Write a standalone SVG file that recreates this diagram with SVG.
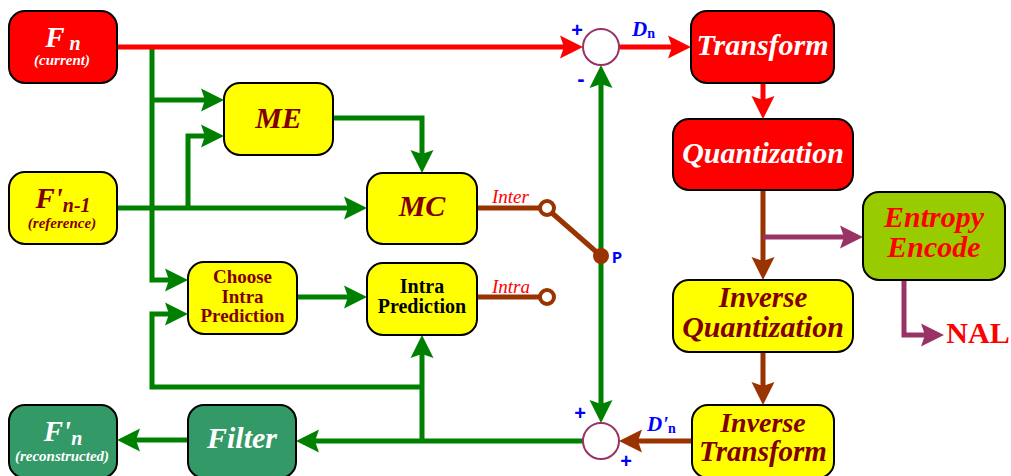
<svg xmlns="http://www.w3.org/2000/svg" width="1011" height="476" viewBox="0 0 1011 476">
<style>
.nd{stroke:#000;stroke-width:2}
.t{font-family:"Liberation Serif","Times New Roman",serif;font-weight:bold;text-anchor:middle}
.bi{font-style:italic}
.w{fill:#fff}
.dr{fill:#800000}
.ln{fill:none;stroke-width:5;stroke-linejoin:miter}
.g{stroke:#008000}
.r{stroke:#ff0000}
.b{stroke:#993300}
.p{stroke:#993366}
.bl{fill:#0000ff;font-family:"Liberation Sans",Arial,sans-serif;font-weight:bold}
.lab{font-family:"Liberation Serif","Times New Roman",serif;font-style:italic;fill:#ff0000;font-size:19px}
</style>
<defs>
<marker id="ag" markerUnits="userSpaceOnUse" markerWidth="24" markerHeight="24" viewBox="0 0 24 24" refX="11" refY="12" orient="auto"><path d="M0,0.5 L23,12 L0,23.5 L4,12 Z" fill="#008000"/></marker>
<marker id="ar" markerUnits="userSpaceOnUse" markerWidth="24" markerHeight="24" viewBox="0 0 24 24" refX="11" refY="12" orient="auto"><path d="M0,0.5 L23,12 L0,23.5 L4,12 Z" fill="#ff0000"/></marker>
<marker id="ab" markerUnits="userSpaceOnUse" markerWidth="24" markerHeight="24" viewBox="0 0 24 24" refX="11" refY="12" orient="auto"><path d="M0,0.5 L23,12 L0,23.5 L4,12 Z" fill="#993300"/></marker>
<marker id="ap" markerUnits="userSpaceOnUse" markerWidth="24" markerHeight="24" viewBox="0 0 24 24" refX="11" refY="12" orient="auto"><path d="M0,0.5 L23,12 L0,23.5 L4,12 Z" fill="#993366"/></marker>
</defs>

<g id="connectors">
<path class="ln g" d="M152,47 V280 H176" marker-end="url(#ag)"/>
<path class="ln g" d="M152,100 H212" marker-end="url(#ag)"/>
<path class="ln g" d="M117,208 H355" marker-end="url(#ag)"/>
<path class="ln g" d="M188,208 V136 H212" marker-end="url(#ag)"/>
<path class="ln g" d="M333,118 H422 V161" marker-end="url(#ag)"/>
<path class="ln g" d="M297,297 H355" marker-end="url(#ag)"/>
<path class="ln g" d="M601,256 V77" marker-end="url(#ag)"/>
<path class="ln g" d="M601,256 V411" marker-end="url(#ag)"/>
<path class="ln g" d="M583,441 H308" marker-end="url(#ag)"/>
<path class="ln g" d="M422,441 V347" marker-end="url(#ag)"/>
<path class="ln g" d="M422,387 H152 V314 H176" marker-end="url(#ag)"/>
<path class="ln g" d="M188,440 H129" marker-end="url(#ag)"/>
<path class="ln r" d="M117,47 H571" marker-end="url(#ar)"/>
<path class="ln r" d="M619,47 H679" marker-end="url(#ar)"/>
<path class="ln r" d="M763,83 V107" marker-end="url(#ar)"/>
<path class="ln b" d="M763,190 V268" marker-end="url(#ab)"/>
<path class="ln b" d="M763,352 V393" marker-end="url(#ab)"/>
<path class="ln b" d="M692,441 H631" marker-end="url(#ab)"/>
<path class="ln b" d="M477,208 H540"/>
<path class="ln b" d="M477,297 H540"/>
<path class="ln b" d="M552,213 L601,256"/>
<path class="ln p" d="M763,237 H851" marker-end="url(#ap)"/>
<path class="ln p" d="M904,280 V335 H932" marker-end="url(#ap)"/>
<circle cx="547" cy="208" r="7" fill="#fff" stroke="#993300" stroke-width="4"/>
<circle cx="547" cy="297" r="7" fill="#fff" stroke="#993300" stroke-width="4"/>
<circle cx="601" cy="256" r="8" fill="#993300"/>
<text class="lab" x="492" y="203">Inter</text>
<text class="lab" x="492" y="293">Intra</text>
<text x="612" y="263" fill="#0000ff" font-family="Liberation Mono,monospace" font-weight="bold" font-size="17">P</text>
</g>

<g id="sum-top">
<circle cx="601" cy="47" r="18" fill="#fff" stroke="#993366" stroke-width="2"/>
<text class="bl" x="577" y="37" font-size="20" text-anchor="middle">+</text>
<text class="bl" x="581" y="86" font-size="22" text-anchor="middle">-</text>
<text x="632" y="36" fill="#0000ff" font-family="Liberation Serif,serif" font-weight="bold"><tspan font-style="italic" font-size="21">D</tspan><tspan font-size="14" dy="2">n</tspan></text>
</g>

<g id="sum-bottom">
<circle cx="601" cy="441" r="18" fill="#fff" stroke="#993366" stroke-width="2"/>
<text class="bl" x="580" y="420" font-size="20" text-anchor="middle">+</text>
<text class="bl" x="626" y="468" font-size="20" text-anchor="middle">+</text>
<text x="647" y="431" fill="#0000ff" font-family="Liberation Serif,serif" font-weight="bold"><tspan font-style="italic" font-size="21">D'</tspan><tspan font-size="14" dy="2">n</tspan></text>
</g>

<g id="Fn">
<rect class="nd" x="9" y="11" width="108" height="72" rx="16" fill="#ff0000"/>
<text class="t bi w" x="63" y="47"><tspan font-size="29">F</tspan><tspan font-size="20" dy="3"> n</tspan></text>
<text class="t bi w" x="62" y="65" font-size="15">(current)</text>
</g>

<g id="Fn1">
<rect class="nd" x="9" y="172" width="108" height="72" rx="16" fill="#ffff00"/>
<text class="t bi dr" x="63" y="208"><tspan font-size="29">F'</tspan><tspan font-size="20" dy="4">n-1</tspan></text>
<text class="t bi dr" x="62" y="228" font-size="15">(reference)</text>
</g>

<g id="ME">
<rect class="nd" x="224" y="83" width="109" height="72" rx="16" fill="#ffff00"/>
<text class="t bi dr" x="278.5" y="128" font-size="30">ME</text>
</g>

<g id="MC">
<rect class="nd" x="367" y="173" width="110" height="71" rx="16" fill="#ffff00"/>
<text class="t bi dr" x="422" y="216" font-size="30">MC</text>
</g>

<g id="ChooseIntra">
<rect class="nd" x="188" y="262" width="109" height="72" rx="16" fill="#ffff00"/>
<text class="t dr" x="242.5" y="283" font-size="19">Choose</text>
<text class="t dr" x="242.5" y="303" font-size="19">Intra</text>
<text class="t dr" x="242.5" y="322" font-size="19">Prediction</text>
</g>

<g id="IntraPrediction">
<rect class="nd" x="367" y="263" width="110" height="72" rx="16" fill="#ffff00"/>
<text class="t" x="422" y="293" font-size="20" fill="#000">Intra</text>
<text class="t" x="422" y="313" font-size="20" fill="#000">Prediction</text>
</g>

<g id="Fn-recon">
<rect class="nd" x="9" y="405" width="108" height="73" rx="16" fill="#339966"/>
<text class="t bi w" x="63" y="441"><tspan font-size="29">F'</tspan><tspan font-size="20" dy="4">n</tspan></text>
<text class="t bi w" x="62" y="461" font-size="15">(reconstructed)</text>
</g>

<g id="Filter">
<rect class="nd" x="188" y="405" width="108" height="73" rx="16" fill="#339966"/>
<text class="t bi w" x="242" y="448" font-size="30">Filter</text>
</g>

<g id="Transform">
<rect class="nd" x="691" y="11" width="143" height="72" rx="16" fill="#ff0000"/>
<text class="t bi w" x="762.5" y="55" font-size="30">Transform</text>
</g>

<g id="Quantization">
<rect class="nd" x="673" y="119" width="180" height="71" rx="16" fill="#ff0000"/>
<text class="t bi w" x="763" y="163" font-size="30">Quantization</text>
</g>

<g id="Entropy">
<rect class="nd" x="863" y="192" width="142" height="88" rx="16" fill="#99cc00"/>
<text class="t bi" x="934" y="227" font-size="30" fill="#ff0000">Entropy</text>
<text class="t bi" x="934" y="257" font-size="30" fill="#ff0000">Encode</text>
</g>

<g id="NAL">
<text class="t" x="978" y="343" font-size="30" fill="#ff0000">NAL</text>
</g>

<g id="InverseQuantization">
<rect class="nd" x="673" y="280" width="180" height="72" rx="16" fill="#ffff00"/>
<text class="t bi dr" x="763" y="307" font-size="29">Inverse</text>
<text class="t bi dr" x="763" y="337" font-size="30">Quantization</text>
</g>

<g id="InverseTransform">
<rect class="nd" x="692" y="405" width="142" height="73" rx="16" fill="#ffff00"/>
<text class="t bi dr" x="763" y="432" font-size="28">Inverse</text>
<text class="t bi dr" x="763" y="461" font-size="29">Transform</text>
</g>
</svg>
